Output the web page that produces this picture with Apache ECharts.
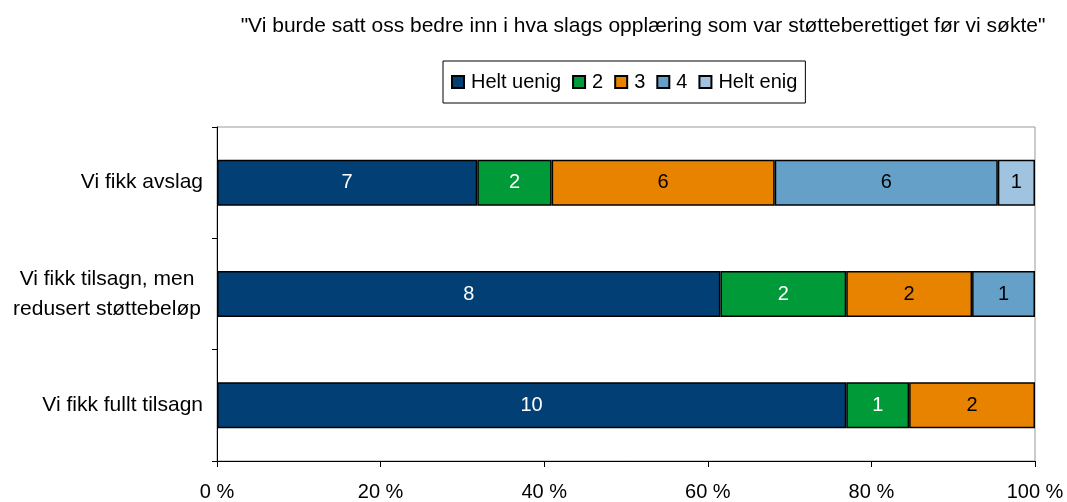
<!DOCTYPE html>
<html>
<head>
<meta charset="utf-8">
<script src="https://cdn.jsdelivr.net/npm/echarts@6/dist/echarts.min.js"></script>
<style>
  html, body { margin: 0; padding: 0; background: #fff; }
  #chart { width: 1067px; height: 502px; }
</style>
</head>
<body>
<div id="chart"></div>
<script>
  // svar (antall) per kategori, fra topp til bunn
  const categories = ['Vi fikk avslag', 'Vi fikk tilsagn, men\nredusert støttebeløp', 'Vi fikk fullt tilsagn'];
  const seriesNames = ['Helt uenig', '2', '3', '4', 'Helt enig'];
  const heltUenig = [7, 8, 10];
  const to = [2, 2, 1];
  const tre = [6, 2, 2];
  const fire = [6, 1, 0];
  const heltEnig = [1, 0, 0];
  const xTicks = [0, 20, 40, 60, 80, 100];

  const COLORS = ['#023f75', '#009a38', '#e88300', '#64a0c8', '#a0c4e0'];
  const LABEL_COLORS = ['#fff', '#fff', '#000', '#000', '#000'];
  const FONT = '"Liberation Sans", Arial, sans-serif';
  const FS = 20;

  const counts = [heltUenig, to, tre, fire, heltEnig];
  const totals = categories.map((c, i) => counts.reduce((s, arr) => s + arr[i], 0));

  const series = seriesNames.map((name, k) => ({
    name,
    type: 'bar',
    stack: 'total',
    barWidth: 46,
    itemStyle: { color: COLORS[k], borderColor: '#000', borderWidth: 1.5 },
    label: {
      show: true,
      position: 'inside',
      color: LABEL_COLORS[k],
      fontFamily: FONT,
      fontSize: FS,
      formatter: p => counts[k][p.dataIndex] ? String(counts[k][p.dataIndex]) : ''
    },
    data: counts[k].map((v, i) => v ? v / totals[i] * 100 : null)
  }));

  const chart = echarts.init(document.getElementById('chart'));
  chart.setOption({
    animation: false,
    title: {
      text: '"Vi burde satt oss bedre inn i hva slags opplæring som var støtteberettiget før vi søkte"',
      left: 638,
      textAlign: 'center',
      top: 11,
      textStyle: { fontFamily: FONT, fontSize: 21, fontWeight: 'normal', color: '#000' }
    },
    legend: {
      left: 443,
      top: 61,
      width: 380,
      padding: [11, 8, 11, 8],
      borderColor: '#000',
      borderWidth: 1,
      itemWidth: 12,
      itemHeight: 12,
      itemGap: 11,
      icon: 'rect',
      textStyle: { fontFamily: FONT, fontSize: FS, color: '#000', padding: [0, 0, 0, 2] },
      data: seriesNames
    },
    grid: {
      left: 217, right: 32, top: 127, bottom: 39,
      show: true, borderColor: '#999', borderWidth: 1
    },
    xAxis: {
      type: 'value',
      min: xTicks[0],
      max: xTicks[xTicks.length - 1],
      interval: xTicks[1] - xTicks[0],
      axisLine: { show: true, lineStyle: { color: '#000' } },
      axisTick: { show: true, length: 6, lineStyle: { color: '#000' } },
      splitLine: { show: false },
      axisLabel: { margin: 21, fontFamily: FONT, fontSize: FS, color: '#000', formatter: '{value} %' }
    },
    yAxis: {
      type: 'category',
      inverse: true,
      data: categories,
      axisLine: { show: true, lineStyle: { color: '#000' } },
      axisTick: { show: true, length: 5, lineStyle: { color: '#000' } },
      axisLabel: {
        margin: 14,
        fontFamily: FONT,
        fontSize: 21,
        color: '#000',
        lineHeight: 30,
        formatter: v => v.includes('\n') ? v.split('\n').map(s => '{c|' + s + '}').join('\n') : v,
        rich: { c: { width: 192, align: 'center', fontFamily: FONT, fontSize: 21, lineHeight: 30, color: '#000' } }
      }
    },
    series
  });
</script>
</body>
</html>
